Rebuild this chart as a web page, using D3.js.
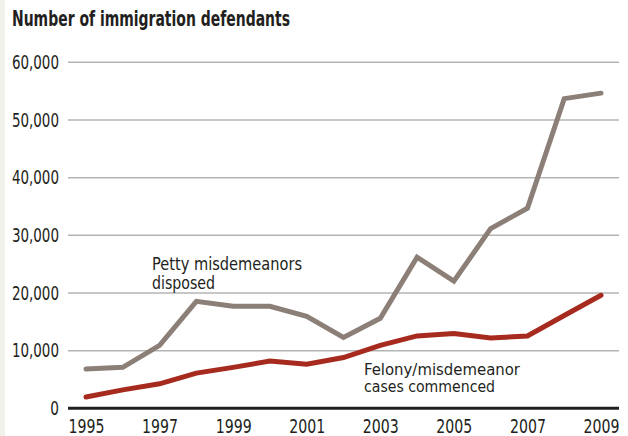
<!DOCTYPE html>
<html>
<head>
<meta charset="utf-8">
<script src="https://cdn.jsdelivr.net/npm/d3@7"></script>
<style>
  html, body { margin: 0; padding: 0; background: #fff; }
  svg { display: block; }
  text { font-family: "DejaVu Sans Condensed", "DejaVu Sans", sans-serif; font-stretch: condensed; fill: #231f20; }
</style>
</head>
<body>
<svg id="chart" width="628" height="436"></svg>
<script>
const years = [1995,1996,1997,1998,1999,2000,2001,2002,2003,2004,2005,2006,2007,2008,2009];
const pettyDisposed = [6800,7100,10900,18550,17700,17700,15950,12300,15600,26200,22050,31150,34700,53700,54650];
const felonyCommenced = [1950,3200,4250,6100,7100,8200,7650,8800,10900,12550,12950,12200,12550,16100,19600];
const yTicks = [0,10000,20000,30000,40000,50000,60000];
const xTicks = [1995,1997,1999,2001,2003,2005,2007,2009];
const titleText = "Number of immigration defendants";
const pettyLabel = ["Petty misdemeanors", "disposed"];
const felonyLabel = ["Felony/misdemeanor", "cases commenced"];

const svg = d3.select("#chart");
const W = 628, H = 436;

svg.append("rect").attr("x",0).attr("y",0).attr("width",5).attr("height",H).attr("fill","#f1f1eb");

const x = d3.scaleLinear().domain([1995,2009]).range([86,601]);
const y = d3.scaleLinear().domain([0,60000]).range([408.3,62.3]);
const gridX0 = 68, gridX1 = 619;

// width of a narrow-face label: digits and commas
function narrowWidth(s) {
  let w = 0;
  for (const c of s) w += (c === ",") ? 3.6 : 8.7;
  return w;
}

// title
const title = svg.append("text").attr("x",12).attr("y",26)
  .attr("font-weight","bold").attr("font-size",21)
  .attr("textLength", 278).attr("lengthAdjust","spacingAndGlyphs")
  .text(titleText);

// gridlines
svg.append("g").selectAll("line").data(yTicks.filter(d=>d>0)).join("line")
  .attr("x1",gridX0).attr("x2",gridX1)
  .attr("y1",d=>y(d)).attr("y2",d=>y(d))
  .attr("stroke","#b4b4b4").attr("stroke-width",1.5);

// y axis labels
const yAxis = d3.axisLeft(y).tickValues(yTicks).tickSize(0).tickPadding(0)
  .tickFormat(d3.format(","));
const gy = svg.append("g").attr("transform",`translate(59,0)`).call(yAxis);
gy.select(".domain").remove();
gy.attr("font-family",null).attr("font-size",null);
gy.selectAll("text").attr("font-size",19).attr("fill","#231f20")
  .each(function(){
    const t = d3.select(this);
    t.attr("textLength", narrowWidth(t.text())).attr("lengthAdjust","spacingAndGlyphs");
  });

// x axis
const xAxis = d3.axisBottom(x).tickValues(xTicks).tickSize(0).tickPadding(0)
  .tickFormat(d3.format("d"));
const gx = svg.append("g").attr("transform",`translate(0,${y(0)})`).call(xAxis);
gx.select(".domain").remove();
gx.attr("font-family",null).attr("font-size",null);
gx.selectAll("text").attr("font-size",19).attr("fill","#231f20").attr("dy","1.3em")
  .each(function(){
    const t = d3.select(this);
    t.attr("textLength", 36).attr("lengthAdjust","spacingAndGlyphs");
  });

const line = d3.line().x((d,i)=>x(years[i])).y(d=>y(d));

svg.append("path").datum(pettyDisposed).attr("d",line)
  .attr("fill","none").attr("stroke","#8b7f77").attr("stroke-width",5)
  .attr("stroke-linecap","round").attr("stroke-linejoin","miter");
svg.append("path").datum(felonyCommenced).attr("d",line)
  .attr("fill","none").attr("stroke","#a72a1f").attr("stroke-width",5)
  .attr("stroke-linecap","round").attr("stroke-linejoin","miter");

// baseline
svg.append("line").attr("x1",gridX0).attr("x2",gridX1)
  .attr("y1",y(0)).attr("y2",y(0)).attr("stroke","#231f20").attr("stroke-width",3);

// labels
const pl = svg.append("text").attr("y",270).attr("font-size",18);
pl.selectAll("tspan").data(pettyLabel).join("tspan")
  .attr("x",152).attr("dy",(d,i)=>i===0?0:19).text(d=>d)
  .attr("textLength",(d,i)=> i===0 ? 150 : 63).attr("lengthAdjust","spacingAndGlyphs");
const fl = svg.append("text").attr("y",374.5).attr("font-size",16.5);
fl.selectAll("tspan").data(felonyLabel).join("tspan")
  .attr("x",364).attr("dy",(d,i)=>i===0?0:17.5).text(d=>d)
  .attr("textLength",(d,i)=> i===0 ? 156 : 131).attr("lengthAdjust","spacingAndGlyphs");
</script>
</body>
</html>
